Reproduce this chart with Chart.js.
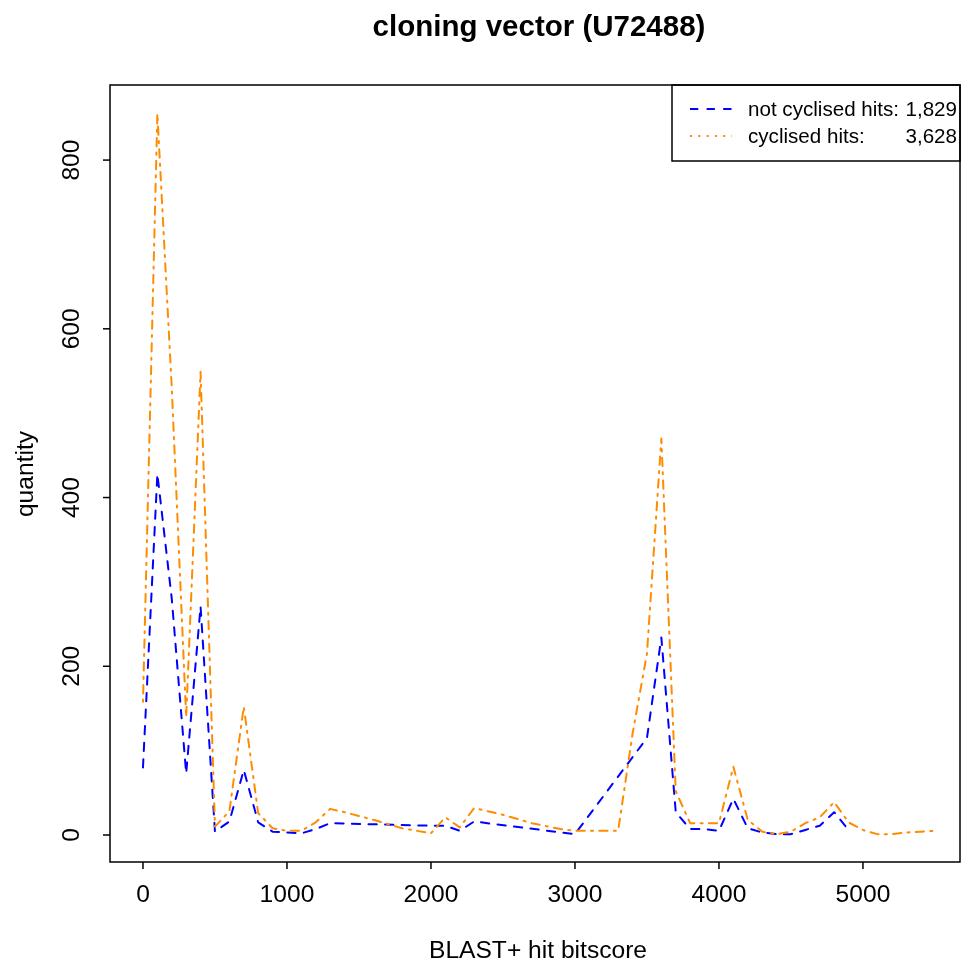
<!DOCTYPE html>
<html><head><meta charset="utf-8">
<script src="https://cdn.jsdelivr.net/npm/chart.js@4/dist/chart.umd.min.js"></script>
<style>html,body{margin:0;padding:0;background:#fff;overflow:hidden}canvas{display:block}</style>
</head><body><canvas id="c" width="961" height="964"></canvas>
<script>
const titleText = "cloning vector (U72488)";
const xAxisLabel = "BLAST+ hit bitscore";
const yAxisLabel = "quantity";
const xTicks = [0, 1000, 2000, 3000, 4000, 5000];
const yTicks = [0, 200, 400, 600, 800];

const notCyclisedBitscore = [0,100,200,300,400,500,600,700,800,900,1000,1100,1200,1300,2000,2100,2200,2300,3000,3500,3600,3700,3800,3900,4000,4100,4200,4300,4400,4500,4600,4700,4800,4900];
const notCyclisedQuantity = [80,428,280,73,271,4,16,77,15,4,3,2,7,14,11,11,5,16,1,115,234,27,7,7,5,43,8,3,1,1,6,11,27,6];

const cyclisedBitscore = [0,100,200,300,400,500,600,700,800,900,1000,1100,1200,1300,1400,1600,1800,2000,2100,2200,2300,2500,2700,2900,3000,3300,3400,3500,3600,3700,3800,3900,4000,4100,4200,4300,4400,4500,4600,4700,4800,4900,5000,5100,5200,5300,5400,5500];
const cyclisedQuantity = [158,855,530,140,549,10,28,152,26,8,5,5,15,31,27,18,8,2,21,9,32,24,14,7,5,5,120,215,470,52,14,14,14,81,18,4,1,4,14,21,39,15,6,1,1,3,4,5];

const legendLabels = ["not cyclised hits:", "cyclised hits:"];
const legendTotals = ["1,829", "3,628"];

const FONT = '"Liberation Sans", Arial, Helvetica, sans-serif';

function pts(xs, ys) { return xs.map((x, i) => ({ x: x, y: ys[i] })); }

const decor = {
  id: 'decor',
  afterDraw(chart) {
    const ctx = chart.ctx;
    const a = chart.chartArea;
    const xs = chart.scales.x, ys = chart.scales.y;
    ctx.save();
    ctx.strokeStyle = '#000';
    ctx.fillStyle = '#000';
    ctx.lineWidth = 1.5;
    ctx.setLineDash([]);
    // box
    ctx.strokeRect(a.left, a.top, a.right - a.left, a.bottom - a.top);
    // x ticks
    ctx.font = '24.6px ' + FONT;
    ctx.textAlign = 'center';
    ctx.textBaseline = 'alphabetic';
    xTicks.forEach(v => {
      const px = xs.getPixelForValue(v);
      ctx.beginPath(); ctx.moveTo(px, a.bottom); ctx.lineTo(px, a.bottom + 7); ctx.stroke();
      ctx.fillText(String(v), px, 902);
    });
    // y ticks
    yTicks.forEach(v => {
      const py = ys.getPixelForValue(v);
      ctx.beginPath(); ctx.moveTo(a.left, py); ctx.lineTo(a.left - 7, py); ctx.stroke();
      ctx.save();
      ctx.translate(79, py);
      ctx.rotate(-Math.PI / 2);
      ctx.fillText(String(v), 0, 0);
      ctx.restore();
    });
    // axis titles
    ctx.fillText(xAxisLabel, 538, 958);
    ctx.save();
    ctx.translate(33, 474);
    ctx.rotate(-Math.PI / 2);
    ctx.fillText(yAxisLabel, 0, 0);
    ctx.restore();
    // title
    ctx.font = 'bold 29.5px ' + FONT;
    ctx.fillText(titleText, 539, 36);
    // legend
    ctx.lineWidth = 1.5;
    ctx.strokeRect(672, 85, 288, 76);
    ctx.lineWidth = 2;
    ctx.strokeStyle = '#0000FF';
    ctx.setLineDash([8.3, 8.3]);
    ctx.beginPath(); ctx.moveTo(690, 109); ctx.lineTo(732, 109); ctx.stroke();
    ctx.strokeStyle = '#FF8C00';
    ctx.setLineDash([2, 6.3]);
    ctx.beginPath(); ctx.moveTo(690, 136); ctx.lineTo(732, 136); ctx.stroke();
    ctx.setLineDash([]);
    ctx.font = '20.6px ' + FONT;
    ctx.fillStyle = '#000';
    ctx.textAlign = 'left';
    ctx.fillText(legendLabels[0], 748, 116);
    ctx.fillText(legendLabels[1], 748, 143);
    ctx.textAlign = 'right';
    ctx.fillText(legendTotals[0], 957, 116);
    ctx.fillText(legendTotals[1], 957, 143);
    ctx.restore();
  }
};

new Chart(document.getElementById('c'), {
  type: 'line',
  data: {
    datasets: [
      {
        label: legendLabels[1] + ' ' + legendTotals[1],
        data: pts(cyclisedBitscore, cyclisedQuantity),
        borderColor: '#FF8C00',
        borderWidth: 2,
        borderDash: [2.1, 6.2, 8.3, 6.2],
        borderCapStyle: 'round',
        borderJoinStyle: 'round',
        pointRadius: 0,
        tension: 0,
        fill: false
      },
      {
        label: legendLabels[0] + ' ' + legendTotals[0],
        data: pts(notCyclisedBitscore, notCyclisedQuantity),
        borderColor: '#0000FF',
        borderWidth: 2,
        borderDash: [8.3, 8.3],
        borderCapStyle: 'round',
        borderJoinStyle: 'round',
        pointRadius: 0,
        tension: 0,
        fill: false
      }
    ]
  },
  options: {
    responsive: false,
    animation: false,
    devicePixelRatio: 1,
    layout: { padding: { left: 110, top: 85, right: 1, bottom: 102 } },
    plugins: { legend: { display: false }, title: { display: false }, tooltip: { enabled: false } },
    scales: {
      x: { type: 'linear', min: -229, max: 5674, display: false },
      y: { type: 'linear', min: -32, max: 889, display: false }
    }
  },
  plugins: [decor]
});
</script>
</body></html>
